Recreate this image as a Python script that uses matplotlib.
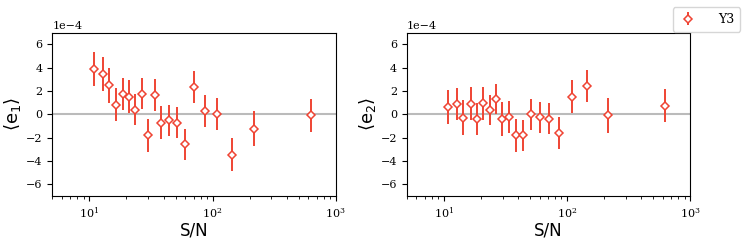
import numpy as np
import matplotlib
matplotlib.use('Agg')
import matplotlib.pyplot as plt

# S/N bin centres (same bins for both panels)
snr = [10.9, 12.8, 14.4, 16.5, 18.6, 20.9, 23.6, 26.5, 29.9, 33.8,
       38.3, 44.2, 51.4, 60.1, 71.1, 86.9, 108.8, 144, 215, 625]

# mean e1, e2 in units of 1e-4
e1 = [3.9, 3.45, 2.5, 0.83, 1.75, 1.52, 0.4, 1.78, -1.81, 1.67,
      -0.72, -0.52, -0.72, -2.58, 2.33, 0.29, 0.03, -3.45, -1.23, -0.09]
e1_err = [1.45, 1.45, 1.5, 1.4, 1.4, 1.4, 1.35, 1.35, 1.4, 1.35,
          1.4, 1.3, 1.35, 1.3, 1.35, 1.4, 1.4, 1.4, 1.5, 1.4]

e2 = [0.6, 0.89, -0.29, 0.92, -0.4, 0.95, 0.4, 1.32, -0.4, -0.23,
      -1.81, -1.81, 0.0, -0.26, -0.37, -1.61, 1.52, 2.44, -0.06, 0.75]
e2_err = [1.45, 1.4, 1.5, 1.4, 1.4, 1.4, 1.3, 1.3, 1.45, 1.35,
          1.4, 1.3, 1.35, 1.3, 1.35, 1.4, 1.4, 1.4, 1.5, 1.4]

red = '#ef4433'
plt.rcParams['mathtext.default'] = 'regular'

fig, axes = plt.subplots(1, 2, figsize=(7.47, 2.42), dpi=100)
fig.subplots_adjust(left=0.07, right=0.924, bottom=0.19, top=0.865, wspace=0.25)

panels = [(e1, e1_err, r'$\langle e_1\rangle$'), (e2, e2_err, r'$\langle e_2\rangle$')]
for ax, (vals, errs, lab) in zip(axes, panels):
    ax.axhline(0, color='#bbbbbb', lw=1.5, zorder=1)
    ax.errorbar(snr, np.array(vals) * 1e-4, yerr=np.array(errs) * 1e-4,
                fmt='D', color=red, mfc='white', mec=red, ms=4, mew=1.1,
                elinewidth=1.4, capsize=0, label='Y3', zorder=3)
    ax.set_xscale('log')
    ax.set_xlim(5, 1000)
    ax.set_ylim(-7e-4, 7e-4)
    ax.set_yticks(np.arange(-6, 7, 2) * 1e-4)
    ax.ticklabel_format(axis='y', style='sci', scilimits=(-4, -4))
    ax.set_xlabel('S/N', fontsize=12, labelpad=1)
    ax.set_ylabel(lab, fontsize=13, labelpad=2)
    for t in ax.get_xticklabels() + ax.get_yticklabels():
        t.set_family('DejaVu Serif')
    ax.tick_params(labelsize=8)
    ax.yaxis.get_offset_text().set_family('DejaVu Serif')
    ax.yaxis.get_offset_text().set_fontsize(8)

handles, labels = axes[1].get_legend_handles_labels()
fig.legend(handles, labels, loc='upper right', bbox_to_anchor=(0.999, 0.995),
           prop={'family': 'DejaVu Serif', 'size': 9}, handlelength=1.6,
           handletextpad=1.6, borderpad=0.45)

fig.savefig('out.png', dpi=100)
